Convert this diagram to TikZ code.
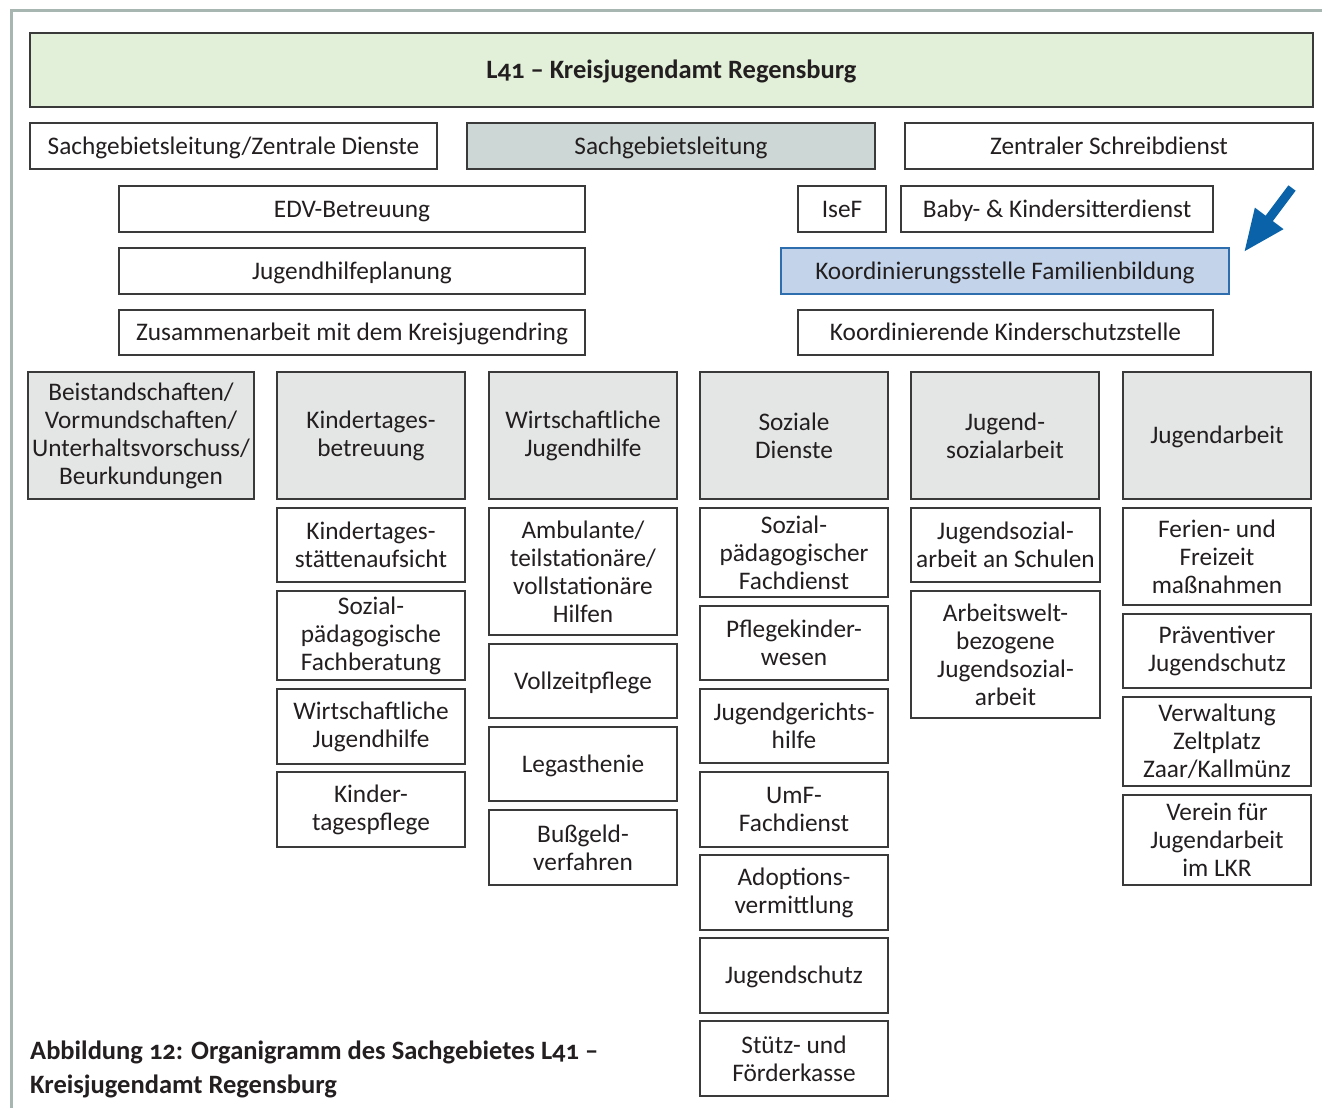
\documentclass[tikz,border=0pt]{standalone}
\usepackage{fontspec}
\setmainfont{Carlito}[Numbers=OldStyle]
\usetikzlibrary{arrows.meta}
\definecolor{framecol}{HTML}{A8B6B2}
\definecolor{titlefill}{HTML}{E2EFD9}
\definecolor{leadfill}{HTML}{CDD7D5}
\definecolor{headfill}{HTML}{E3E6E5}
\definecolor{koordfill}{HTML}{C3D4EA}
\definecolor{koordline}{HTML}{2F6EAE}
\definecolor{arrowcol}{HTML}{0A63A8}
\definecolor{linecol}{HTML}{3A3A3A}
\definecolor{textcol}{HTML}{231F20}
\newcommand\orgbox[7]{%
  \pgfmathsetmacro\bxc{(#3+#5)/2}%
  \pgfmathsetmacro\byc{(#4+#6)/2}%
  \pgfmathsetmacro\bxw{#5-#3}%
  \pgfmathsetmacro\bxh{#6-#4}%
  \node[#1, minimum width=\bxw pt, minimum height=\bxh pt] (#2) at (\bxc,\byc) {#7};}
\begin{document}
\begin{tikzpicture}[x=1pt,y=-1pt,
  box/.style={draw=linecol, line width=1.2pt, fill=white, inner sep=0pt, outer sep=0pt,
    align=center, text=textcol, font=\fontsize{25.3}{28}\selectfont},
  oneline/.style={text height=20pt, text depth=4pt},
  titlebox/.style={box, oneline, fill=titlefill, font=\fontsize{26.5}{28}\selectfont\bfseries},
  leadbox/.style={box, fill=leadfill},
  headbox/.style={box, fill=headfill},
  koordbox/.style={box, fill=koordfill, draw=koordline, line width=2.4pt},
  caption/.style={anchor=west, align=left, inner sep=0pt, text=textcol,
    font=\fontsize{26.5}{34}\selectfont\bfseries},
  framing/.style={draw=framecol, line width=3pt},
  pointer/.style={draw=arrowcol, line width=9pt, -{Triangle[length=42pt,width=33pt]}, arrowcol}
]
\useasboundingbox (0,0) rectangle (1322,1108);
\draw[framing] (10,11) -- (1322,11);
\draw[framing] (11,11) -- (11,1108);

\orgbox{titlebox}{title}{30}{33}{1313}{107}{L41 – Kreisjugendamt Regensburg}

\orgbox{box,oneline}{sgzd}{30}{123}{437}{169}{Sachgebietsleitung/Zentrale Dienste}
\orgbox{leadbox,oneline}{sgl}{467}{123}{875}{169}{Sachgebietsleitung}
\orgbox{box,oneline}{zsd}{905}{123}{1313}{169}{Zentraler Schreibdienst}

\orgbox{box,oneline}{edv}{119}{186}{585}{232}{EDV-Betreuung}
\orgbox{box,oneline}{isef}{798}{186}{886}{232}{IseF}
\orgbox{box,oneline}{baby}{901}{186}{1213}{232}{Baby- \& Kindersitterdienst}

\orgbox{box,oneline}{jhp}{119}{248}{585}{294}{Jugendhilfeplanung}
\orgbox{koordbox,oneline}{kfb}{781}{248}{1229}{294}{Koordinierungsstelle Familienbildung}

\orgbox{box,oneline}{zkjr}{119}{310}{585}{355}{Zusammenarbeit mit dem Kreisjugendring}
\orgbox{box,oneline}{kks}{798}{310}{1213}{355}{Koordinierende Kinderschutzstelle}

\coordinate (arrS) at (1292,188);
\coordinate (arrE) at (1244,252);
\draw[pointer] (arrS) -- (arrE);

\orgbox{headbox}{h1}{28}{372}{254}{499}{Beistandschaften/\\Vormundschaften/\\Unterhaltsvorschuss/\\Beurkundungen}
\orgbox{headbox}{h2}{277}{372}{465}{499}{Kindertages-\\betreuung}
\orgbox{headbox}{h3}{489}{372}{677}{499}{Wirtschaftliche\\Jugendhilfe}
\orgbox{headbox}{h4}{700}{372}{888}{499}{Soziale\\Dienste}
\orgbox{headbox}{h5}{911}{372}{1099}{499}{Jugend-\\sozialarbeit}
\orgbox{headbox,oneline}{h6}{1123}{372}{1311}{499}{Jugendarbeit}

\orgbox{box}{c2a}{277}{508}{465}{582}{Kindertages-\\stättenaufsicht}
\orgbox{box}{c2b}{277}{591}{465}{680}{Sozial-\\pädagogische\\Fachberatung}
\orgbox{box}{c2c}{277}{689}{465}{764}{Wirtschaftliche\\Jugendhilfe}
\orgbox{box}{c2d}{277}{772}{465}{847}{Kinder-\\tagespflege}

\orgbox{box}{c3a}{489}{508}{677}{635}{Ambulante/\\teilstationäre/\\vollstationäre\\Hilfen}
\orgbox{box,oneline}{c3b}{489}{644}{677}{718}{Vollzeitpflege}
\orgbox{box,oneline}{c3c}{489}{727}{677}{801}{Legasthenie}
\orgbox{box}{c3d}{489}{810}{677}{885}{Bußgeld-\\verfahren}

\orgbox{box}{c4a}{700}{508}{888}{597}{Sozial-\\pädagogischer\\Fachdienst}
\orgbox{box}{c4b}{700}{606}{888}{680}{Pflegekinder-\\wesen}
\orgbox{box}{c4c}{700}{689}{888}{763}{Jugendgerichts-\\hilfe}
\orgbox{box}{c4d}{700}{772}{888}{847}{UmF-\\Fachdienst}
\orgbox{box}{c4e}{700}{855}{888}{930}{Adoptions-\\vermittlung}
\orgbox{box,oneline}{c4f}{700}{938}{888}{1013}{Jugendschutz}
\orgbox{box}{c4g}{700}{1021}{888}{1096}{Stütz- und\\Förderkasse}

\orgbox{box}{c5a}{911}{508}{1100}{582}{Jugendsozial-\\arbeit an Schulen}
\orgbox{box}{c5b}{911}{591}{1100}{718}{Arbeitswelt-\\bezogene\\Jugendsozial-\\arbeit}

\orgbox{box}{c6a}{1123}{508}{1311}{605}{Ferien- und\\Freizeit\\maßnahmen}
\orgbox{box}{c6b}{1123}{614}{1311}{688}{Präventiver\\Jugendschutz}
\orgbox{box}{c6c}{1123}{697}{1311}{786}{Verwaltung\\Zeltplatz\\Zaar/Kallmünz}
\orgbox{box}{c6d}{1123}{795}{1311}{885}{Verein für\\Jugendarbeit\\im LKR}

\node[caption] (cap) at (30,1069) {Abbildung 12: Organigramm des Sachgebietes L41 –\\Kreisjugendamt Regensburg};
\end{tikzpicture}
\end{document}
